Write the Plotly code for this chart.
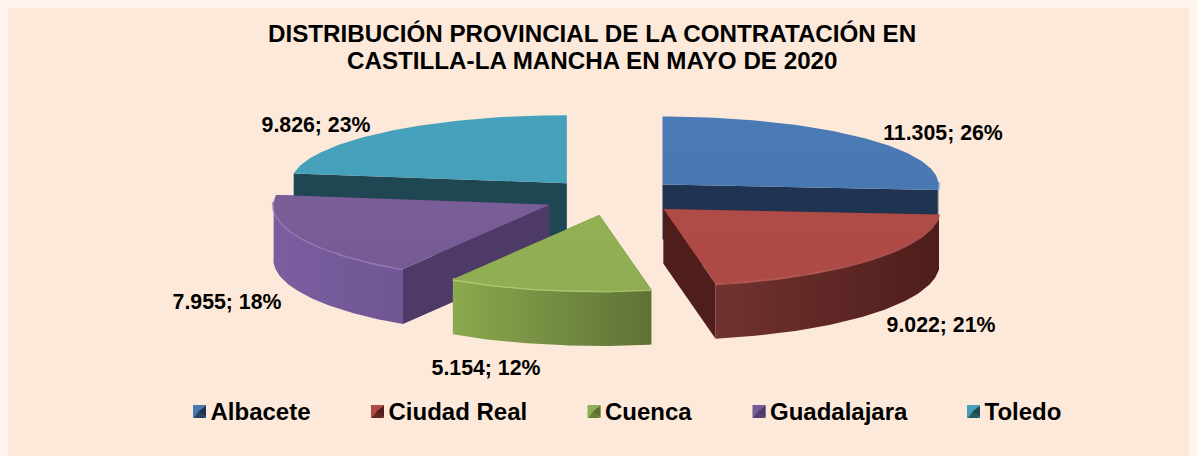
import numpy as np
import plotly.graph_objects as go

categories = ["Albacete", "Ciudad Real", "Cuenca", "Guadalajara", "Toledo"]
values = [11305, 9022, 5154, 7955, 9826]
top_colors = ["#4877B1", "#AD4A46", "#8FAD52", "#755A94", "#46A0BA"]
top_light = ["#4B7BB6", "#B04C48", "#92B054", "#795E98", "#46A2BC"]
cut_colors = ["#1F3450", "#4F1E1C", "#5E7034", "#4E3A66", "#1E4753"]
wall_left = ["#1F3450", "#713330", "#8BA94E", "#7A5EA0", "#1E4753"]
wall_right = ["#1F3450", "#4E1D1B", "#5F7236", "#705694", "#1E4753"]
rim_colors = ["#6E9AD0", "#C4615D", "#BCD67A", "#9B80BE", "#6BBAD2"]
legend_x = [199.5, 377.5, 594, 759, 973.5]
label_x = [943, 941, 486, 227, 316]
label_y = [135, 327, 370, 304, 127]
title_lines = ["DISTRIBUCIÓN PROVINCIAL DE LA CONTRATACIÓN EN",
               "CASTILLA-LA MANCHA EN MAYO DE 2020"]

W, H, BODY = 1197, 456, 8
CX, CY, RX, RY_BACK, RY_FRONT, DEPTH, PULL = 612, 197, 276, 68, 76, 55, 0.25
FONT = "Liberation Sans"
total = sum(values)


def pt(theta):
    s, c = np.sin(theta), np.cos(theta)
    ry = np.where(c > 0, RY_BACK, RY_FRONT)
    return RX * s, -ry * c


def poly(fig, xs, ys, c0, c1=None, kind="horizontal"):
    c1 = c1 or c0
    fig.add_trace(go.Scatter(
        x=xs, y=ys, mode="lines", line=dict(width=0), fill="toself",
        fillgradient=dict(type=kind, colorscale=[[0, c0], [1, c1]]),
        hoverinfo="skip", showlegend=False))


fig = go.Figure()
fracs = np.array(values) / total
edges = np.concatenate([[0], np.cumsum(fracs)]) * 2 * np.pi
draw_order = [4, 0, 3, 1, 2]
for i in draw_order:
    a0, a1 = edges[i], edges[i + 1]
    mid = (a0 + a1) / 2
    ox = CX + PULL * RX * np.sin(mid)
    oy = CY - PULL * (RY_BACK + 5) * np.cos(mid)
    t = np.linspace(a0, a1, 80)
    ax, ay = pt(t)
    ax, ay = ox + ax, oy + ay
    for (ex, ey) in ((ax[0], ay[0]), (ax[-1], ay[-1])):
        poly(fig, [ox, ex, ex, ox, ox], [oy, ey, ey + DEPTH, oy + DEPTH, oy], cut_colors[i])
    front = np.cos(t) <= 0.05
    if front.any():
        fx, fy = ax[front], ay[front]
        poly(fig, np.r_[fx, fx[::-1], fx[0]], np.r_[fy, fy[::-1] + DEPTH, fy[0]],
             wall_left[i], wall_right[i])
        fig.add_trace(go.Scatter(x=fx, y=fy, mode="lines", opacity=0.75,
                                 line=dict(color=rim_colors[i], width=3),
                                 hoverinfo="skip", showlegend=False))
    poly(fig, np.r_[ox, ax, ox], np.r_[oy, ay, oy], top_colors[i], top_light[i], "vertical")

fig.add_trace(go.Scatter(
    x=label_x, y=label_y, mode="text",
    text=[f"{v:,}".replace(",", ".") + f"; {round(100 * v / total)}%" for v in values],
    textposition="middle center",
    textfont=dict(family=FONT, size=21.3, color="#000000", weight="bold"),
    hoverinfo="skip", showlegend=False))

# legend keys: a bevelled square, then its name
fig.add_trace(go.Scatter(
    x=legend_x, y=[411.5] * 5, mode="markers",
    marker=dict(symbol="square", size=13, color=top_colors, line=dict(width=0)),
    hoverinfo="skip", showlegend=False))
fig.add_trace(go.Scatter(
    x=[v + 4 for v in legend_x], y=[411.5] * 5, mode="markers",
    marker=dict(symbol="triangle-left", size=10, color=cut_colors, line=dict(width=0)),
    hoverinfo="skip", showlegend=False))
fig.add_trace(go.Scatter(
    x=legend_x, y=[415.5] * 5, mode="markers",
    marker=dict(symbol="triangle-up", size=10, color=cut_colors, opacity=0.8, line=dict(width=0)),
    hoverinfo="skip", showlegend=False))
fig.add_trace(go.Scatter(
    x=[v + 11 for v in legend_x], y=[414] * 5, mode="text",
    text=categories, textposition="middle right",
    textfont=dict(family=FONT, size=24, color="#000000", weight="bold"),
    hoverinfo="skip", showlegend=False))

fig.update_layout(
    width=W - BODY, height=H - BODY, margin=dict(l=0, r=0, t=0, b=0),
    paper_bgcolor="#FDE9D9", plot_bgcolor="#FDE9D9",
    xaxis=dict(range=[BODY, W], visible=False, fixedrange=True),
    yaxis=dict(range=[H, BODY], visible=False, fixedrange=True),
    annotations=[dict(x=592, y=y, xref="x", yref="y", text=f"<b>{s}</b>", showarrow=False,
                      font=dict(family=FONT, size=24.2, color="#000000"))
                 for s, y in zip(title_lines, [33, 60])],
)
fig.write_html("out.html", post_script="document.body.style.background='#FFF4EE';document.body.style.overflow='hidden';")
